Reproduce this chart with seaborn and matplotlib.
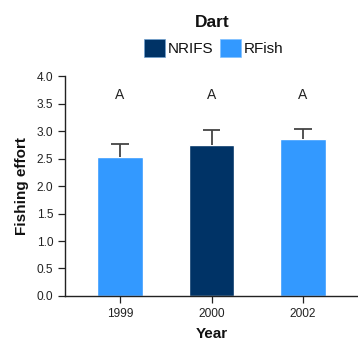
import matplotlib
matplotlib.use("Agg")
import matplotlib.pyplot as plt
import seaborn as sns
import pandas as pd
import numpy as np
from matplotlib.patches import Patch

years = ["1999", "2000", "2002"]
effort = [2.53, 2.74, 2.85]
err_upper = [0.24, 0.28, 0.19]
source = ["RFish", "NRIFS", "RFish"]
letters = ["A", "A", "A"]

palette = {"NRIFS": "#003366", "RFish": "#3399FF"}

sns.set_theme(style="ticks")
plt.rcParams['font.family'] = ['Liberation Sans', 'DejaVu Sans']

df = pd.DataFrame({"Year": years, "Effort": effort, "Source": source})

fig = plt.figure(figsize=(3.58, 3.41), dpi=100)
ax = fig.add_axes([0.182, 0.132, 0.818, 0.645])

sns.barplot(data=df, x="Year", y="Effort", hue="Source", palette=palette,
            hue_order=["NRIFS", "RFish"], dodge=False, width=0.5, ax=ax,
            errorbar=None, legend=False, saturation=1)

x = np.arange(len(years))
eff = np.array(effort)
top = eff + np.array(err_upper)
ax.vlines(x, eff, top, color="#444444", linewidth=1.3, zorder=3)
ax.hlines(top, x - 0.095, x + 0.095, color="#444444", linewidth=1.3, zorder=3)
for xi, lt in zip(x, letters):
    ax.text(xi, 3.65, lt, ha="center", va="center", fontsize=10, color="#222222")

ax.set_xlim(-0.6, 2.6)
ax.set_ylim(0, 4.0)
yt = np.arange(0, 4.01, 0.5)
ax.set_yticks(yt)
ax.set_yticklabels([f"{v:.1f}" for v in yt])
ax.tick_params(axis="both", labelsize=8.6, colors="#222222", length=5, width=0.9)
ax.set_xlabel("Year", fontsize=11, fontweight="bold", labelpad=5, color="#111111")
ax.set_ylabel("Fishing effort", fontsize=11, fontweight="bold", labelpad=6, color="#111111")
sns.despine(ax=ax)
for s in ["left", "bottom"]:
    ax.spines[s].set_linewidth(1.0)
    ax.spines[s].set_color("#222222")

fig.text(0.592, 0.935, "Dart", ha="center", va="center", fontsize=12.5,
         fontweight="bold", color="#111111")
handles = [Patch(facecolor=palette["NRIFS"], edgecolor="#6fa0d0", linewidth=0.5),
           Patch(facecolor=palette["RFish"], edgecolor="#7fc0ff", linewidth=0.5)]
fig.legend(handles, ["NRIFS", "RFish"], loc="center", bbox_to_anchor=(0.597, 0.86),
           ncol=2, frameon=False, fontsize=11, handlelength=1.4, handleheight=1.4,
           handletextpad=0.2, columnspacing=0.4, labelcolor="#111111")

fig.savefig("out.png", dpi=100)
